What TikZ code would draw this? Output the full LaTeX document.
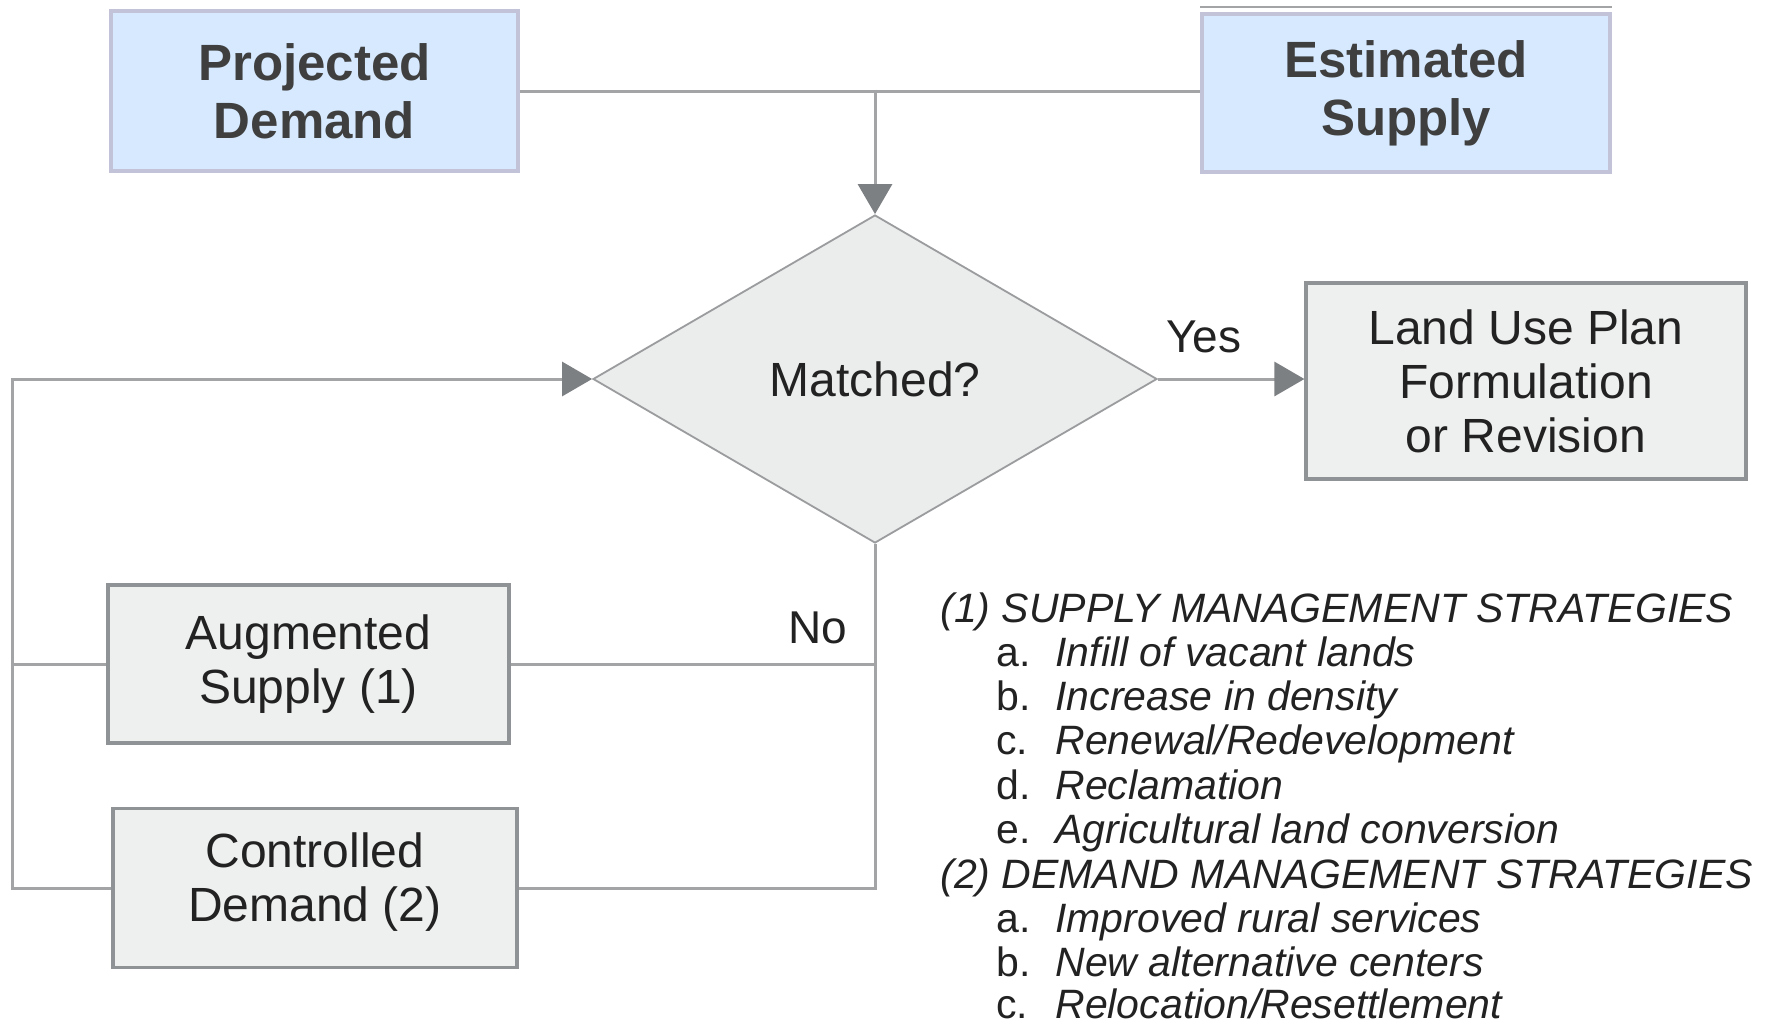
\documentclass[tikz,border=0pt]{standalone}
\usepackage{fontspec}
\setmainfont{Liberation Sans}
\usetikzlibrary{shapes.geometric,arrows.meta}
\definecolor{bluefill}{HTML}{D6E9FE}
\definecolor{blueline}{HTML}{C2C2D8}
\definecolor{grayfill}{HTML}{EEEFEF}
\definecolor{grayline}{HTML}{909395}
\definecolor{dmfill}{HTML}{EBECEC}
\definecolor{dmline}{HTML}{9A9C9E}
\definecolor{conn}{HTML}{A2A4A6}
\definecolor{tipc}{HTML}{7D8083}
\definecolor{boldtext}{HTML}{3F3F3F}
\definecolor{regtext}{HTML}{222222}
\tikzset{
  topbox/.style={draw=blueline, line width=2pt, fill=bluefill, inner sep=0pt,
    align=center, text=boldtext, font=\fontsize{25.5pt}{29pt}\selectfont\bfseries},
  graybox/.style={draw=grayline, line width=1.6pt, fill=grayfill, inner sep=0pt,
    align=center, text=regtext, font=\fontsize{24pt}{27pt}\selectfont},
  decision/.style={diamond, draw=dmline, line width=0.9pt, fill=dmfill, inner sep=0pt,
    minimum width=282pt, minimum height=164pt, text=regtext, font=\fontsize{24pt}{27pt}\selectfont},
  conline/.style={draw=conn, line width=1.5pt},
  tipped/.style={-{Triangle[length=15pt,width=17pt,color=tipc]}},
  lbl/.style={text=regtext, font=\fontsize{23pt}{27pt}\selectfont, inner sep=0pt},
  listhead/.style={anchor=base west, inner sep=0pt, text=regtext, font=\fontsize{20.5pt}{22pt}\selectfont\itshape},
  listitem/.style={anchor=base west, inner sep=0pt, text=regtext, font=\fontsize{20.5pt}{22pt}\selectfont},
}
\newcommand{\itm}[2]{\makebox[29.5pt][l]{#1}\textit{#2}}
\begin{document}
\begin{tikzpicture}[x=0.5pt,y=-0.5pt]
\fill[white] (0,0) rectangle (1775,1028);
\useasboundingbox (0,0) rectangle (1775,1028);

% nodes
\node[topbox, minimum width=203.5pt, minimum height=80pt] (pd) at (314.5,91) {Projected\\Demand};
\node[topbox, minimum width=204pt, minimum height=79pt] (es) at (1406,93) {Estimated\\Supply};
\draw[draw=conn, line width=1.2pt] ([yshift=2.5pt]es.north west) -- ([yshift=2.5pt]es.north east);
\node[decision] (dm) at (875,379) {Matched?};
\node[graybox, minimum width=220pt, minimum height=98pt] (lu) at (1526,381) {Land Use Plan\\Formulation\\or Revision};
\node[graybox, minimum width=200.5pt, minimum height=79pt] (as) at (308.5,664) {Augmented\\Supply (1)};
\node[graybox, minimum width=202pt, minimum height=79.5pt, text depth=11pt] (cd) at (315,888) {Controlled\\Demand (2)};

% connectors
\coordinate (j1) at (875,89.5);
\coordinate (lx) at (12,0);
\coordinate (rx) at (877,0);
\draw[conline] (pd.east) -- (es.west |- pd.east);
\draw[conline, tipped] (j1) -- (dm.north);
\draw[conline, tipped] (dm.east) -- (dm.east -| lu.west);
\node[lbl] (yes) at (1204,337) {Yes};
\draw[conline] (dm.south) -- (dm.south |- cd.east) -- (cd.east);
\draw[conline] (as.east) -- (as.east -| rx);
\draw[conline, tipped] (cd.west) -- (cd.west -| lx) -- (dm.west -| lx) -- (dm.west);
\draw[conline] (as.west) -- (as.west -| lx);
\node[lbl] (no) at (818,628) {No};

% strategy list
\node[listhead] (h1) at (940,622) {(1) SUPPLY MANAGEMENT STRATEGIES};
\node[listitem] (s1) at (996,666) {\itm{a.}{Infill of vacant lands}};
\node[listitem] (s2) at (996,710) {\itm{b.}{Increase in density}};
\node[listitem] (s3) at (996,754.5) {\itm{c.}{Renewal/Redevelopment}};
\node[listitem] (s4) at (996,799) {\itm{d.}{Reclamation}};
\node[listitem] (s5) at (996,843.5) {\itm{e.}{Agricultural land conversion}};
\node[listhead] (h2) at (940,888) {(2) DEMAND MANAGEMENT STRATEGIES};
\node[listitem] (d1) at (996,932.5) {\itm{a.}{Improved rural services}};
\node[listitem] (d2) at (996,976) {\itm{b.}{New alternative centers}};
\node[listitem] (d3) at (996,1018) {\itm{c.}{Relocation/Resettlement}};
\end{tikzpicture}
\end{document}
